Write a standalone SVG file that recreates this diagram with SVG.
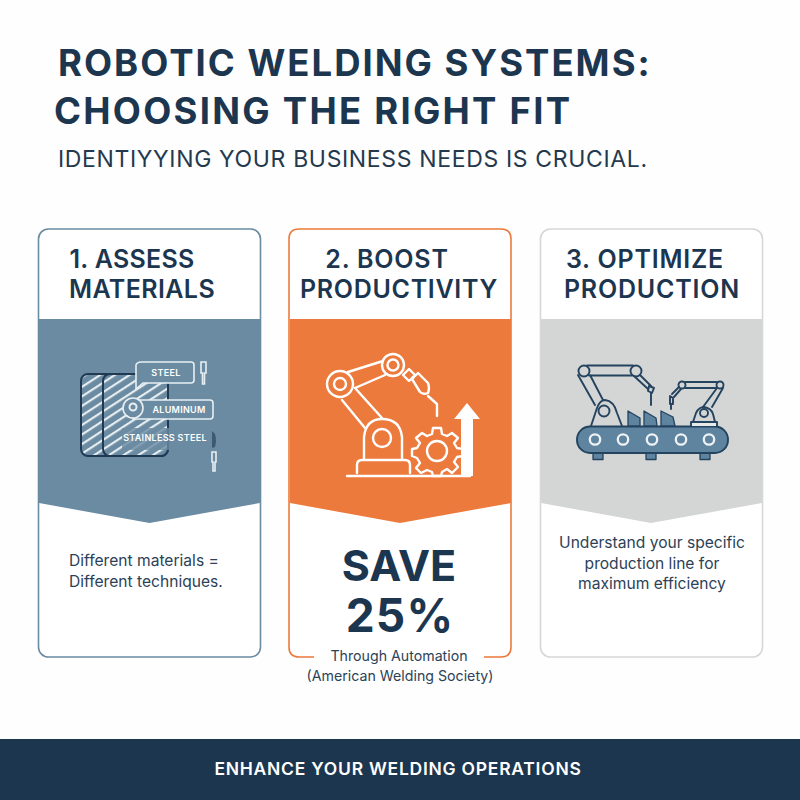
<svg xmlns="http://www.w3.org/2000/svg" width="800" height="800" viewBox="0 0 800 800">
<style>
text{font-family:"Inter","Liberation Sans",sans-serif;fill:#1c3650;text-anchor:middle}
.t{font-size:36.5px;font-weight:700;letter-spacing:2px;text-anchor:start}
.h{font-size:25px;font-weight:600;letter-spacing:.8px}
.b{font-size:15.6px;fill:#2c4257}
.w{fill:none;stroke:#fff;stroke-width:2.4;stroke-linejoin:round;stroke-linecap:round}
.wt{font-size:9px;font-weight:600;fill:#fff;letter-spacing:.3px}
.n{fill:none;stroke:#24435f;stroke-width:1.9;stroke-linejoin:round;stroke-linecap:round}
.f{fill:#5f84a0;stroke:#24435f;stroke-width:1.3;stroke-linejoin:round}
.o{fill:none;stroke:#e8eff3;stroke-width:1.6}
.s{font-size:14.2px;fill:#2c4257}
</style>
<defs>
<pattern id="hatch" width="8" height="8" patternUnits="userSpaceOnUse" patternTransform="rotate(-33)">
<rect width="8" height="8" fill="#6a8ba2"/><rect width="8" height="2.2" fill="#e6edf1"/>
</pattern>
</defs>
<rect width="800" height="800" fill="#fefefe"/>
<g id="title">
<text class="t" x="58" y="76">ROBOTIC WELDING SYSTEMS:</text>
<text class="t" x="54" y="124" style="letter-spacing:2.25px">CHOOSING THE RIGHT FIT</text>
<text x="58" y="167" style="font-size:23px;text-anchor:start;letter-spacing:.65px;fill:#24394d">IDENTIYYING YOUR BUSINESS NEEDS IS CRUCIAL.</text>
</g>
<g id="card-1">
<rect x="38.500" y="229" width="222" height="428" rx="10" fill="#fff" stroke="#6a8ba2" stroke-width="1.600"/>
<path d="M39 319H260V503L149.500 523L39 503Z" fill="#6a8ba2"/>
<text class="h" x="132" y="268" style="letter-spacing:.3px">1. ASSESS</text>
<text class="h" x="142" y="298" style="letter-spacing:.4px">MATERIALS</text>
<rect x="81" y="374" width="87" height="82" rx="7" fill="url(#hatch)" stroke="#1f3a52" stroke-width="2"/>
<rect x="103" y="374" width="65" height="82" rx="7" fill="url(#hatch)" stroke="#1f3a52" stroke-width="2"/>
<path d="M122 428H178V450H122Z" fill="#6a8ba2" opacity=".8"/>
<path d="M141 362H191Q194 362 194 365V380Q194 383 191 383H143L136 389V365Q137 362 141 362Z" fill="#6a8ba2" stroke="#e8eff3" stroke-width="1.600"/>
<text class="wt" x="166" y="376">STEEL</text>
<path d="M133 400H210Q213 400 213 403V416Q213 419 210 419H133Z" fill="#6a8ba2" stroke="#e8eff3" stroke-width="1.600"/>
<circle cx="133" cy="408" r="10" fill="#6a8ba2" stroke="#e8eff3" stroke-width="1.600"/>
<circle cx="133" cy="407" r="3.500" fill="none" stroke="#e8eff3" stroke-width="2"/>
<text class="wt" x="179" y="413">ALUMINUM</text>
<text class="wt" x="165" y="441">STAINLESS STEEL</text>
<path d="M201 362H206V373H204.500V384H202.500V373H201Z" class="o"/>
<path d="M212 431Q218 435 215 447L212 448Z" fill="#3d5a72"/>
<path d="M212 452H216V462H215V471H213V462H212Z" class="o"/>
<text class="b" x="69" y="566" style="text-anchor:start">Different materials =</text>
<text class="b" x="69" y="587" style="text-anchor:start">Different techniques.</text>
</g>
<g id="card-2">
<path d="M314 657H299Q289 657 289 647V239Q289 229 299 229H501Q511 229 511 239V647Q511 657 501 657H484" fill="#fff" stroke="#ec7a3c" stroke-width="1.600"/>
<path d="M290 319H511V503L400 523L290 503Z" fill="#ec7a3c"/>
<text class="h" x="387" y="268">2. BOOST</text>
<text class="h" x="399" y="298" style="letter-spacing:.7px">PRODUCTIVITY</text>
<g class="w">
<circle cx="340" cy="384" r="13"/><circle cx="340" cy="384" r="6"/>
<circle cx="393" cy="365" r="11"/><circle cx="393" cy="365" r="5.500"/>
<path d="M348 372L383 361M355 388L385 375M342 400L365 428M355 388L382 418"/>
<path d="M364 459V437Q366 419 382 419Q400 419 402 437V459M357 473V465Q357 460 362 460H405Q410 460 410 465V473M347 476H470"/>
<circle cx="382" cy="438" r="9"/>
<path d="M403 375L409 369L415 375L409 381ZM412 379L418 373L428 383Q430 388 428 393Q423 395 420 392ZM428 396L437 404V416"/>
<circle cx="437" cy="451" r="10"/>
<path d="M433 428H441L442 434L447 436L452 433L458 438L454 443L457 448L463 449V456L457 457L454 462L458 467L452 473L447 469L442 472L441 476H433L432 472L427 470L421 473L416 468L420 463L417 458L412 456V449L417 448L420 443L416 438L422 433L427 436L432 434Z"/>
</g>
<path d="M461 476V419H454L467 403L480 419H473V476Z" fill="#fff"/>
<text x="399" y="581" style="font-size:43px;font-weight:700">SAVE</text>
<text x="400" y="632" style="font-size:46px;font-weight:700;letter-spacing:1.200px">25%</text>
<text class="s" x="399" y="661">Through Automation</text>
<text class="s" x="400" y="681">(American Welding Society)</text>
</g>
<g id="card-3">
<rect x="540.500" y="229" width="222" height="428" rx="10" fill="#fff" stroke="#d6d7d8" stroke-width="1.600"/>
<path d="M541 319H762V503L651 523L541 503Z" fill="#d4d5d5"/>
<text class="h" x="645" y="268">3. OPTIMIZE</text>
<text class="h" x="652" y="298">PRODUCTION</text>
<rect x="593" y="453" width="10" height="6.500" class="f"/><rect x="646" y="453" width="10" height="6.500" class="f"/><rect x="700" y="453" width="10" height="6.500" class="f"/>
<rect x="577" y="426.500" width="151" height="26.500" rx="13" fill="#5f84a0" stroke="#24435f" stroke-width="1.900"/>
<g fill="none" stroke="#eef2f4" stroke-width="2.300">
<circle cx="595" cy="439.500" r="5.200"/><circle cx="623" cy="439.500" r="5.200"/><circle cx="652" cy="439.500" r="5.200"/><circle cx="681" cy="439.500" r="5.200"/><circle cx="709" cy="439.500" r="5.200"/>
</g>
<path class="f" d="M628 411L640 418V426H628ZM644 411L656 418L657 426H644ZM661 411L673 417L675 426H661Z"/>
<g class="n">
<path d="M591 426L597 408Q600 400 605 400Q614 401 617 413L622 426"/>
<circle cx="604" cy="411" r="5.500"/>
<circle cx="584" cy="371" r="5.500"/><circle cx="636" cy="371" r="5.500"/>
<path d="M587 365.500H633M589 375.500H632M578 375L595 405M590 375L603 400M640 375L651 386M634 376L648 389"/>
<path d="M649 386L654 388L652 393L648 391ZM651 393V405"/>
<path d="M693 422L696 413Q699 407 704 407Q711 408 713 414L715 422"/>
<path d="M691 426V422H717V426" fill="#e8eaea"/>
<circle cx="704" cy="413" r="4"/>
<circle cx="682" cy="385" r="3.500"/><circle cx="720" cy="385" r="3.500"/>
<path d="M685 382H717M685 388H717M723 388L712 407M717 388L703 407M679 387L672 394M681 389L674 397"/>
<path d="M670 396L673 398V404L670 404ZM671 404V409"/>
</g>
<text class="b" x="652" y="548">Understand your specific</text>
<text class="b" x="652" y="569">production line for</text>
<text class="b" x="652" y="589">maximum efficiency</text>
</g>
<g id="footer">
<rect y="739" width="800" height="61" fill="#1c3650"/>
<text x="398" y="775" style="font-size:17.500px;font-weight:600;fill:#fff;letter-spacing:.75px">ENHANCE YOUR WELDING OPERATIONS</text>
</g>
<g id="connectors"></g>
</svg>
